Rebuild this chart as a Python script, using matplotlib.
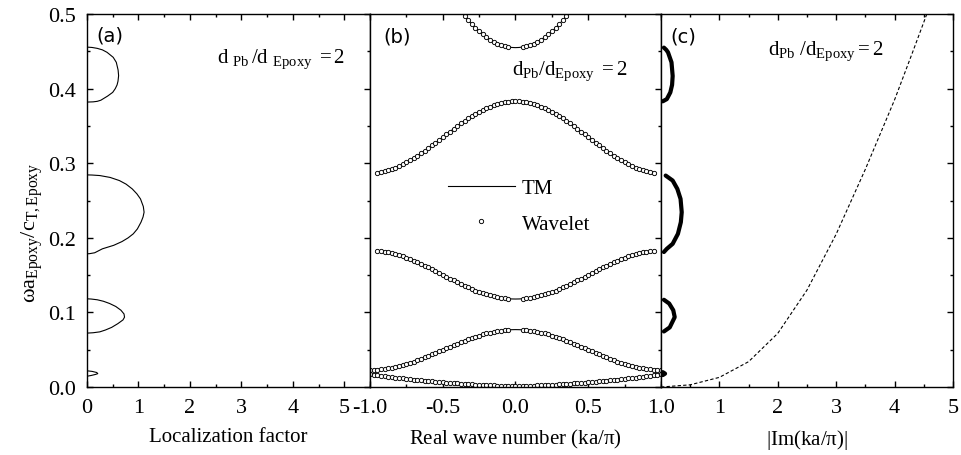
import numpy as np
import matplotlib.pyplot as plt
from matplotlib.ticker import MultipleLocator, FormatStrFormatter

plt.rcParams['font.family'] = 'Liberation Serif'
plt.rcParams['mathtext.fontset'] = 'custom'
plt.rcParams['mathtext.rm'] = 'Liberation Serif'
plt.rcParams['mathtext.it'] = 'Liberation Serif:italic'
plt.rcParams['axes.unicode_minus'] = False

# (a) localization factor in each gap: frequency, factor
gap1_w = [0.0145, 0.0155, 0.017, 0.018, 0.0195, 0.021, 0.0218]
gap1_g = [0.0, 0.08, 0.17, 0.21, 0.19, 0.10, 0.0]
gap2_w = [0.0723, 0.0728, 0.074, 0.0765, 0.080, 0.085, 0.090, 0.0937, 0.098, 0.103, 0.108, 0.112, 0.115, 0.117, 0.118, 0.1183]
gap2_g = [0.0, 0.12, 0.25, 0.36, 0.48, 0.60, 0.70, 0.73, 0.72, 0.66, 0.56, 0.44, 0.32, 0.20, 0.08, 0.0]
gap3_w = [0.1786, 0.1788, 0.180, 0.1853, 0.190, 0.195, 0.200, 0.2054, 0.212, 0.221, 0.228, 0.2344, 0.242, 0.2522, 0.259, 0.2656, 0.272, 0.2768, 0.281, 0.2835, 0.2842, 0.2844]
gap3_g = [0.0, 0.05, 0.15, 0.30, 0.52, 0.68, 0.80, 0.90, 0.98, 1.05, 1.09, 1.11, 1.095, 1.04, 0.97, 0.88, 0.76, 0.63, 0.45, 0.25, 0.10, 0.0]
gap4_w = [0.382, 0.3823, 0.383, 0.3845, 0.3862, 0.390, 0.395, 0.400, 0.405, 0.410, 0.4174, 0.425, 0.4353, 0.442, 0.4487, 0.452, 0.454, 0.4552, 0.4557]
gap4_g = [0.0, 0.12, 0.20, 0.27, 0.31, 0.40, 0.50, 0.55, 0.585, 0.603, 0.615, 0.605, 0.57, 0.51, 0.39, 0.30, 0.20, 0.10, 0.0]

# (b) band structure, k >= 0 half (mirrored)
k_half = [0.0, 0.025, 0.05, 0.075, 0.1, 0.125, 0.15, 0.175, 0.2, 0.225, 0.25, 0.275, 0.3, 0.325,
          0.35, 0.375, 0.4, 0.425, 0.45, 0.475, 0.5, 0.525, 0.55, 0.575, 0.6, 0.625, 0.65, 0.675,
          0.7, 0.725, 0.75, 0.775, 0.8, 0.825, 0.85, 0.875, 0.9, 0.925, 0.95, 0.975, 1.0]
band1 = [0.0015, 0.0015, 0.0016, 0.0017, 0.0018, 0.0020, 0.0021, 0.0023, 0.0025, 0.0027, 0.0030,
         0.0032, 0.0035, 0.0038, 0.0041, 0.0044, 0.0048, 0.0051, 0.0055, 0.0059, 0.0063, 0.0067,
         0.0071, 0.0075, 0.0080, 0.0085, 0.0090, 0.0095, 0.0099, 0.0105, 0.0110, 0.0115, 0.0121,
         0.0127, 0.0133, 0.0139, 0.0145, 0.0151, 0.0157, 0.0164, 0.0170]
band2 = [0.077, 0.0769, 0.0767, 0.0763, 0.0757, 0.0749, 0.0741, 0.0730, 0.0718, 0.0705, 0.0691,
         0.0675, 0.0659, 0.0641, 0.0623, 0.0603, 0.0583, 0.0563, 0.0542, 0.0521, 0.050, 0.0479,
         0.0458, 0.0437, 0.0417, 0.0397, 0.0377, 0.0359, 0.0341, 0.0325, 0.0309, 0.0295, 0.0282,
         0.0270, 0.0259, 0.0251, 0.0243, 0.0237, 0.0233, 0.0231, 0.023]
band3 = [0.118, 0.1181, 0.1184, 0.1189, 0.1196, 0.1205, 0.1215, 0.1228, 0.1242, 0.1258, 0.1275,
         0.1294, 0.1314, 0.1335, 0.1357, 0.1381, 0.1405, 0.1429, 0.1454, 0.1479, 0.1505, 0.1531,
         0.1556, 0.1581, 0.1605, 0.1629, 0.1653, 0.1676, 0.1696, 0.1717, 0.1735, 0.1752, 0.1768,
         0.1782, 0.1795, 0.1805, 0.1814, 0.1821, 0.1825]
band4 = [0.383, 0.3829, 0.3824, 0.3817, 0.3807, 0.3793, 0.3778, 0.3759, 0.3738, 0.3715, 0.3689,
         0.3662, 0.3632, 0.3601, 0.3568, 0.3534, 0.3498, 0.3462, 0.3425, 0.3388, 0.335, 0.3312,
         0.3275, 0.3238, 0.3202, 0.3166, 0.3132, 0.3099, 0.3068, 0.3038, 0.3011, 0.2985, 0.2962,
         0.2941, 0.2922, 0.2907, 0.2893, 0.2883, 0.2876]
band5 = [0.455, 0.4552, 0.4559, 0.4570, 0.4585, 0.4604, 0.4628, 0.4656, 0.4689, 0.4726, 0.4767,
         0.4812, 0.4863, 0.4917, 0.4976, 0.5040]
bands = [band1, band2, band3, band4, band5]
gap_at_zero = [False, True, True, False, True]

# (c) |Im(ka/pi)| in each gap: frequency, value
im1_w = [0.016, 0.018, 0.020]
im1_v = [0.03, 0.07, 0.03]
im2_w = [0.0745, 0.080, 0.0937, 0.103, 0.112, 0.117]
im2_v = [0.05, 0.15, 0.235, 0.21, 0.14, 0.05]
im3_w = [0.181, 0.1853, 0.192, 0.2054, 0.221, 0.2344, 0.2522, 0.2656, 0.2768, 0.2835]
im3_v = [0.05, 0.10, 0.20, 0.29, 0.34, 0.355, 0.335, 0.28, 0.20, 0.08]
im4_w = [0.383, 0.386, 0.395, 0.405, 0.417, 0.4353, 0.4487, 0.452, 0.455]
im4_v = [0.03, 0.10, 0.16, 0.19, 0.20, 0.18, 0.12, 0.09, 0.05]
# dashed curve
dash_x = [0.0, 0.5, 1.0, 1.5, 2.0, 2.5, 3.0, 3.5, 4.0, 4.3, 4.6]
dash_y = [0.0, 0.003, 0.013, 0.034, 0.072, 0.130, 0.205, 0.292, 0.385, 0.447, 0.51]

fig = plt.figure(figsize=(9.62, 4.56), dpi=100)
ax_a = fig.add_axes([0.0904, 0.149, 0.2942, 0.818])
ax_b = fig.add_axes([0.3846, 0.149, 0.3025, 0.818])
ax_c = fig.add_axes([0.6871, 0.149, 0.3035, 0.818])

for ax in [ax_a, ax_b, ax_c]:
    ax.set_ylim(0, 0.5)
    ax.yaxis.set_major_locator(MultipleLocator(0.1))
    ax.yaxis.set_minor_locator(MultipleLocator(0.05))
    ax.tick_params(which='both', direction='in', top=True, right=True, labelsize=16, width=1, pad=8)
    ax.tick_params(which='major', length=4.3)
    ax.tick_params(which='minor', length=2.3)
    for s in ax.spines.values():
        s.set_linewidth(1.0)

# (a)
for w, g in [(gap1_w, gap1_g), (gap2_w, gap2_g), (gap3_w, gap3_g), (gap4_w, gap4_g)]:
    ax_a.plot(g, w, 'k-', lw=0.8)
ax_a.set_xlim(0, 5.5)
ax_a.set_xticks([0, 1, 2, 3, 4, 5])
ax_a.xaxis.set_minor_locator(MultipleLocator(0.5))
ax_a.yaxis.set_major_formatter(FormatStrFormatter('%.1f'))
ax_a.set_xlabel('Localization factor', fontsize=15, labelpad=7)
ax_a.text(0.035, 0.944, '(a)', transform=ax_a.transAxes, fontsize=14, family='DejaVu Sans', va='center')
ax_a.text(0.459, 0.871, r'$\mathrm{d}\ _{\mathrm{Pb}}\,/\mathrm{d}\ _{\mathrm{Epoxy}}\ = 2$',
          transform=ax_a.transAxes, fontsize=15)

# (b)
k = np.array(k_half)
for band, hole in zip(bands, gap_at_zero):
    w = np.array(band)
    kk = k[:len(w)]
    kf = np.concatenate([-kk[:0:-1], kk])
    wf = np.concatenate([w[:0:-1], w])
    tm_line, = ax_b.plot(kf, wf, 'k-', lw=0.8)
    keep = np.abs(kf) > 0.04 if hole else np.ones(len(kf), bool)
    wav, = ax_b.plot(kf[keep], wf[keep], 'o', ms=3.1, mfc='white', mec='black', mew=0.65, ls='none')
ax_b.set_xlim(-1, 1)
ax_b.set_xticks([-1, -0.5, 0, 0.5, 1])
ax_b.xaxis.set_major_formatter(FormatStrFormatter('%.1f'))
ax_b.xaxis.set_minor_locator(MultipleLocator(0.25))
ax_b.tick_params(which='both', left=False, labelleft=False)
ax_b.set_xlabel(r'Real wave number (ka/$\mathrm{\pi}$)', fontsize=15, labelpad=7)
ax_b.text(0.045, 0.94, '(b)', transform=ax_b.transAxes, fontsize=14, family='DejaVu Sans', va='center')
ax_b.text(0.488, 0.839, r'$\mathrm{d}_{\mathrm{Pb}}/\mathrm{d}_{\mathrm{Epoxy}}\ = 2$',
          transform=ax_b.transAxes, fontsize=15)
ax_b.legend([tm_line, wav], ['TM', 'Wavelet'], loc='center left', bbox_to_anchor=(0.232, 0.485),
            frameon=False, fontsize=15, handlelength=3.2, handletextpad=0.35, labelspacing=0.75,
            borderpad=0)

# (c)
for w, v in [(im1_w, im1_v), (im2_w, im2_v), (im3_w, im3_v), (im4_w, im4_v)]:
    ax_c.plot(v, w, 'k-', lw=3.0, solid_capstyle='round')
ax_c.plot(dash_x, dash_y, 'k--', lw=0.8, dashes=(3, 2))
ax_c.set_xlim(0, 5)
ax_c.set_xticks([1, 2, 3, 4, 5])
ax_c.xaxis.set_minor_locator(MultipleLocator(0.5))
ax_c.tick_params(which='both', left=False, labelleft=False)
ax_c.set_xlabel(r'|Im(ka/$\mathrm{\pi}$)|', fontsize=15, labelpad=7)
ax_c.text(0.031, 0.941, '(c)', transform=ax_c.transAxes, fontsize=14, family='DejaVu Sans', va='center')
ax_c.text(0.366, 0.893, r'$\mathrm{d}_{\mathrm{Pb}}\ /\mathrm{d}_{\mathrm{Epoxy}}= 2$',
          transform=ax_c.transAxes, fontsize=15)

fig.text(0.0333, 0.49, r'$\mathrm{\omega a}_{\mathrm{Epoxy}}/\mathrm{c}_{\mathrm{T,Epoxy}}$',
         rotation=90, ha='center', va='center', fontsize=16)

fig.savefig('out.png', dpi=100)
